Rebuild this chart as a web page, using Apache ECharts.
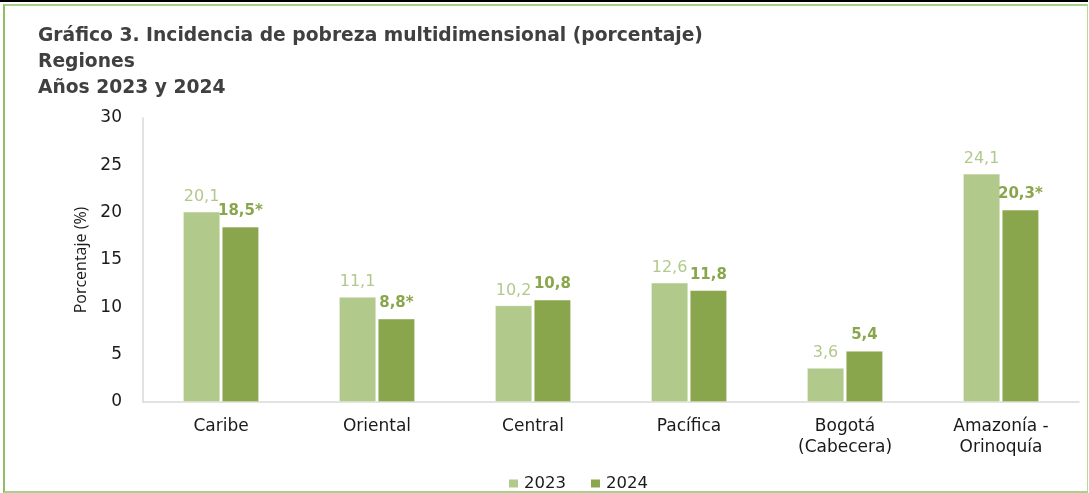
<!DOCTYPE html>
<html>
<head>
<meta charset="utf-8">
<script src="https://cdn.jsdelivr.net/npm/echarts@6/dist/echarts.min.js"></script>
<style>
html,body{margin:0;padding:0;background:#fff;}
#wrap{position:relative;width:1089px;height:493px;overflow:hidden;}
#topline{position:absolute;left:0;top:0;width:1088px;height:2px;background:#000;}
#frame{position:absolute;left:3px;top:4px;width:1082px;height:485px;border-top:2px solid #a9d18e;border-left:2px solid #8fbf62;border-right:1px solid #b7d99a;border-bottom:2px solid #a9d18e;box-sizing:content-box;}
#chart{position:absolute;left:0;top:0;width:1089px;height:493px;}
</style>
</head>
<body>
<div id="wrap">
<div id="topline"></div>
<div id="frame"></div>
<div id="chart"></div>
</div>
<script>
var categories = ['Caribe', 'Oriental', 'Central', 'Pacífica', 'Bogotá\n(Cabecera)', 'Amazonía -\nOrinoquía'];
var values2023 = [20.1, 11.1, 10.2, 12.6, 3.6, 24.1];
var values2024 = [18.5, 8.8, 10.8, 11.8, 5.4, 20.3];
var labels2024 = ['18,5*', '8,8*', '10,8', '11,8', '5,4', '20,3*'];
var yTicks = [0, 5, 10, 15, 20, 25, 30];

var FONT = '"DejaVu Sans", "Open Sans", sans-serif';
var LIGHT = '#b2c98c';
var DARK = '#8aa64d';

var chart = echarts.init(document.getElementById('chart'), null, {renderer: 'canvas'});
chart.setOption({
  backgroundColor: 'transparent',
  animation: false,
  textStyle: {fontFamily: FONT},
  title: {
    text: 'Gráfico 3. Incidencia de pobreza multidimensional (porcentaje)\nRegiones\nAños 2023 y 2024',
    left: 33, top: 18,
    textStyle: {fontFamily: FONT, fontWeight: 'bold', fontSize: 18.7, color: '#404040', lineHeight: 26}
  },
  legend: {
    bottom: -4, left: 502,
    itemWidth: 11, itemHeight: 10, itemGap: 23,
    icon: 'rect',
    textStyle: {fontFamily: FONT, fontSize: 16.5, color: '#1a1a1a'},
    data: ['2023', '2024']
  },
  grid: {left: 143, right: 10, top: 118, bottom: 91, containLabel: false},
  xAxis: {
    type: 'category',
    data: categories,
    axisLine: {lineStyle: {color: '#d9d9d9', width: 1.5}},
    axisTick: {show: false},
    axisLabel: {fontFamily: FONT, fontSize: 17, color: '#1a1a1a', margin: 14, lineHeight: 21, interval: 0}
  },
  yAxis: {
    type: 'value', min: 0, max: 30, interval: 5,
    name: 'Porcentaje (%)',
    nameLocation: 'middle', nameGap: 53, nameRotate: 90,
    nameTextStyle: {fontFamily: '"Open Sans", sans-serif', fontSize: 16, color: '#1a1a1a'},
    axisLine: {show: true, lineStyle: {color: '#d9d9d9', width: 1.5}},
    axisTick: {show: false},
    splitLine: {show: false},
    axisLabel: {fontFamily: FONT, fontSize: 17, color: '#1a1a1a', margin: 21, formatter: function(v){ return yTicks.indexOf(v) >= 0 ? String(v) : ''; }}
  },
  series: [
    {
      name: '2023', type: 'bar', data: values2023,
      barWidth: 37, barGap: '5%',
      itemStyle: {color: LIGHT, borderColor: '#ffffff', borderWidth: 0.5},
      label: {show: true, position: 'top', distance: 7, fontFamily: FONT, fontSize: 16, color: LIGHT,
        formatter: function(p){ return String(p.value).replace('.', ','); }}
    },
    {
      name: '2024', type: 'bar', data: values2024,
      barWidth: 37,
      itemStyle: {color: DARK, borderColor: '#ffffff', borderWidth: 0.5},
      label: {show: true, position: 'top', distance: 8, fontFamily: FONT, fontSize: 15, fontWeight: 'bold', color: DARK,
        formatter: function(p){ return labels2024[p.dataIndex]; }}
    }
  ]
});
</script>
</body>
</html>
